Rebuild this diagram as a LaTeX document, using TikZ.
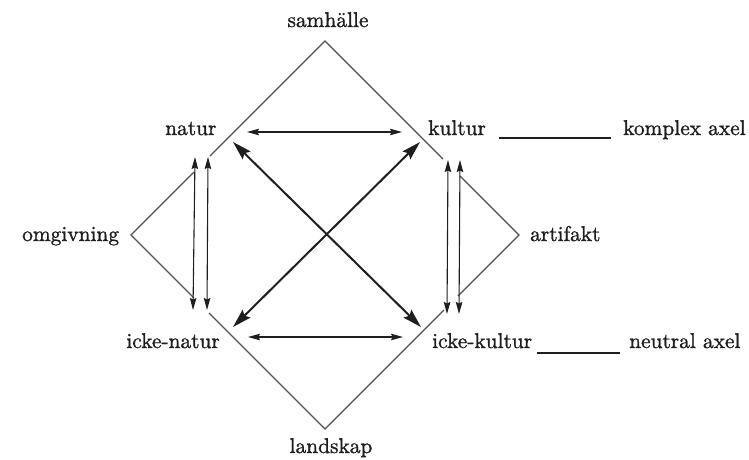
\documentclass[tikz,border=0pt]{standalone}
\usepackage{fontspec}
\newfontfamily\labfont{lmroman10-regular.otf}[FakeBold=1.2]
\usetikzlibrary{arrows.meta}
\definecolor{ink}{HTML}{1E1E1E}
\definecolor{edge}{HTML}{505050}
\tikzset{
  lbl/.style={inner sep=0pt, text=ink, font=\labfont\fontsize{21.4}{24}\selectfont},
  frame/.style={draw=edge, line width=1.1pt},
  thinarrow/.style={draw=ink, line width=1.1pt, {Stealth[length=12pt,width=6.5pt,inset=1.5pt]}-{Stealth[length=12pt,width=6.5pt,inset=1.5pt]}},
  bigarrow/.style={draw=ink, line width=2pt, {Stealth[length=19pt,width=11pt,inset=3pt]}-{Stealth[length=19pt,width=11pt,inset=3pt]}},
  axisline/.style={draw=ink, line width=1.1pt}
}
\begin{document}
\begin{tikzpicture}[x=1pt,y=-1pt]
\useasboundingbox (0,0) rectangle (749,459);
% labels
\node[lbl, anchor=base] (samh) at (328,27) {samhälle};
\node[lbl, anchor=base west] (natur) at (165,135) {natur};
\node[lbl, anchor=base west] (kultur) at (428,135) {kultur};
\node[lbl, anchor=base west] (komplex) at (623,135) {komplex axel};
\node[lbl, anchor=base west] (omg) at (22,241) {omgivning};
\node[lbl, anchor=base west] (artif) at (530,241) {artifakt};
\node[lbl, anchor=base east] (ickenatur) at (220,348) {icke-natur};
\node[lbl, anchor=base west] (ickekultur) at (432,348) {icke-kultur};
\node[lbl, anchor=base west] (neutral) at (629,348) {neutral axel};
\node[lbl, anchor=base] (landskap) at (331,453) {landskap};
% frame coordinates
\coordinate (T) at (325,41);
\coordinate (B) at (325,429);
\coordinate (L) at (131,235);
\coordinate (R) at (519,235);
\coordinate (tl) at (210,156);
\coordinate (ol1) at (194,172);
\coordinate (ol2) at (194,298);
\coordinate (bl) at (209,313);
\coordinate (tr) at (443,159);
\coordinate (ar1) at (460,176);
\coordinate (ar2) at (458,296);
\coordinate (br) at (444,310);
\draw[frame] (tl) -- (T) -- (tr);
\draw[frame] (ol1) -- (L) -- (ol2);
\draw[frame] (ar1) -- (R) -- (ar2);
\draw[frame] (bl) -- (B) -- (br);
% arrow ends
\coordinate (hN) at (247,132);
\coordinate (hK) at (402,132);
\coordinate (hIN) at (248,337);
\coordinate (hIK) at (403,337);
\coordinate (dN) at (233,142);
\coordinate (dIK) at (421,327);
\coordinate (dK) at (420,142);
\coordinate (dIN) at (233,327);
\coordinate (v1t) at (195,157);
\coordinate (v1b) at (193,310);
\coordinate (v2t) at (208,157);
\coordinate (v2b) at (207,310);
\coordinate (v3t) at (448,160);
\coordinate (v3b) at (447,314);
\coordinate (v4t) at (460,160);
\coordinate (v4b) at (459,314);
\draw[thinarrow] (hN) -- (hK);
\draw[thinarrow] (hIN) -- (hIK);
\draw[bigarrow] (dN) -- (dIK);
\draw[bigarrow] (dK) -- (dIN);
\draw[thinarrow] (v1t) -- (v1b);
\draw[thinarrow] (v2t) -- (v2b);
\draw[thinarrow] (v3t) -- (v3b);
\draw[thinarrow] (v4t) -- (v4b);
% axis lines
\draw[axisline] ([xshift=13pt,yshift=-3pt]kultur.base east) -- ([xshift=-12pt,yshift=-3pt]komplex.base west);
\draw[axisline] ([xshift=5pt,yshift=-5pt]ickekultur.base east) -- ([xshift=-9pt,yshift=-5pt]neutral.base west);
\end{tikzpicture}
\end{document}
